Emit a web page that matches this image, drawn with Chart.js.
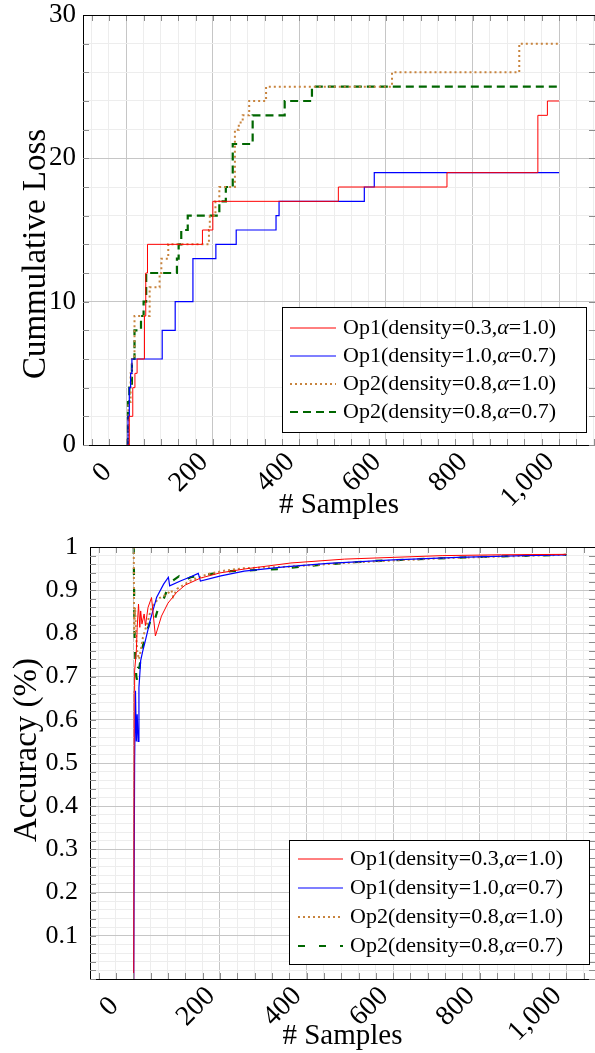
<!DOCTYPE html>
<html lang="en">
<head>
<meta charset="UTF-8">
<title>Cumulative Loss and Accuracy</title>
<script src="https://cdn.jsdelivr.net/npm/chart.js"></script>
<style>
  html, body { margin: 0; padding: 0; background: #fff; }
  canvas { position: absolute; left: 0; }
  #lossChart { top: 0; }
  #accChart { top: 530px; }
</style>
</head>
<body>
<canvas id="lossChart" width="595" height="530"></canvas>
<canvas id="accChart" width="595" height="523"></canvas>
<script>
// series names (same four runs in both plots)
const seriesLabels = [
  'Op1(density=0.3,α=1.0)',
  'Op1(density=1.0,α=0.7)',
  'Op2(density=0.8,α=1.0)',
  'Op2(density=0.8,α=0.7)'
];

// x axis (# samples)
const sampleTicks = [0, 200, 400, 600, 800, 1000];
const sampleTickLabels = ['0\u2002', '200', '400', '600', '800', '1,000'];

// cumulative loss, step curves: level reached at each sample
const lossOp1aX = [3, 7, 15, 20, 25, 42, 45, 49, 176, 200, 490, 741, 951, 973, 1000];
const lossOp1aY = [0, 2, 4, 5, 6, 9, 12, 14, 15, 17, 18, 19, 23, 24, 24];
const lossOp1bX = [2, 4, 7, 10, 13, 83, 113, 154, 207, 254, 346, 353, 550, 573, 1000];
const lossOp1bY = [0, 2, 4, 5, 6, 8, 10, 13, 14, 15, 16, 17, 18, 19, 19];
const lossOp2aX = [2, 5, 10, 13, 19, 54, 77, 81, 97, 191, 193, 206, 215, 251, 260, 269, 284, 323, 614, 908, 1000];
const lossOp2aY = [0, 3, 5, 6, 9, 11, 12, 13, 14, 15, 16, 17, 18, 22, 22.5, 23, 24, 25, 26, 28, 28];
const lossOp2bX = [2, 4, 7, 13, 19, 34, 40, 46, 117, 121, 127, 138, 142, 215, 230, 246, 292, 366, 429, 1000];
const lossOp2bY = [0, 3, 4, 6, 8, 9, 10, 12, 13, 14, 15, 15, 16, 17, 18, 21, 23, 24, 25, 25];
const lossTicks = [0, 10, 20, 30];
const lossTickLabels = ['0', '10', '20', '30'];

// accuracy curves
const accOp1aX = [1, 2, 3, 7, 9, 12, 15, 17, 20, 25, 28, 34, 42, 51, 65, 80, 100, 120, 155, 200, 256, 287, 364, 488, 600, 713, 850, 1000];
const accOp1aY = [0, 0.667, 0.713, 0.76, 0.814, 0.868, 0.814, 0.852, 0.822, 0.845, 0.818, 0.86, 0.883, 0.794, 0.84, 0.87, 0.895, 0.912, 0.928, 0.94, 0.949, 0.953, 0.963, 0.972, 0.976, 0.98, 0.982, 0.983];
const accOp1bX = [1, 3, 5, 7, 9, 11, 13, 17, 22, 27, 39, 54, 70, 81, 84, 110, 130, 150, 155, 202, 256, 349, 450, 600, 750, 900, 1000];
const accOp1bY = [0, 0.5, 0.667, 0.55, 0.613, 0.55, 0.675, 0.737, 0.76, 0.78, 0.83, 0.884, 0.914, 0.93, 0.91, 0.922, 0.93, 0.939, 0.921, 0.933, 0.944, 0.954, 0.962, 0.97, 0.976, 0.98, 0.982];
const accOp2aX = [1, 2, 4, 6, 9, 13, 17, 22, 28, 34, 42, 50, 57, 78, 88, 92, 101, 132, 171, 209, 256, 349, 504, 713, 850, 1000];
const accOp2aY = [1, 0.8, 0.86, 0.8, 0.76, 0.74, 0.76, 0.79, 0.81, 0.83, 0.86, 0.87, 0.88, 0.891, 0.9, 0.885, 0.903, 0.922, 0.937, 0.945, 0.951, 0.954, 0.964, 0.974, 0.978, 0.982];
const accOp2bX = [1, 2, 3, 5, 7, 9, 11, 14, 18, 22, 27, 33, 40, 46, 55, 70, 85, 105, 110, 132, 160, 225, 333, 434, 543, 659, 800, 1000];
const accOp2bY = [1, 0.88, 0.8, 0.73, 0.7, 0.69, 0.72, 0.72, 0.75, 0.77, 0.8, 0.81, 0.83, 0.82, 0.85, 0.88, 0.918, 0.932, 0.918, 0.93, 0.935, 0.944, 0.949, 0.959, 0.967, 0.972, 0.977, 0.982];
const accTicks = [0.1, 0.2, 0.3, 0.4, 0.5, 0.6, 0.7, 0.8, 0.9, 1];
const accTickLabels = ['0.1', '0.2', '0.3', '0.4', '0.5', '0.6', '0.7', '0.8', '0.9', '1'];

const serif = "'Liberation Serif', 'Times New Roman', serif";

function points(xs, ys) {
  return xs.map((x, i) => ({ x: x, y: ys[i] }));
}

function near(a, b) { return Math.abs(a - b) < 1e-6; }

// minor grid every `step`, majors get labels
function stepValues(from, to, step) {
  const out = [];
  const n = Math.round((to - from) / step);
  for (let k = 0; k <= n; k++) out.push(Math.round((from + k * step) * 1000) / 1000);
  return out;
}

function axis(cfg) {
  return {
    type: 'linear',
    min: cfg.min,
    max: cfg.max,
    afterBuildTicks: scale => {
      scale.ticks = stepValues(cfg.from, cfg.to, cfg.step).map(v => ({ value: v }));
    },
    afterFit: scale => {
      if (cfg.width) { scale.width = cfg.width; }
      if (cfg.height) { scale.height = cfg.height; }
      scale.paddingLeft = 0; scale.paddingRight = 0;
      scale.paddingTop = 0; scale.paddingBottom = 0;
    },
    grid: {
      drawTicks: false,
      color: ctx => cfg.majors.some(m => near(m, ctx.tick.value)) ? '#c6c6c6' : '#ededed',
      lineWidth: 1
    },
    border: { display: true, color: '#000', width: 1 },
    ticks: {
      autoSkip: false,
      padding: cfg.pad,
      labelOffset: cfg.labelOffset || 0,
      color: '#000',
      font: { family: serif, size: cfg.tickSize || 26 },
      minRotation: cfg.rot || 0,
      maxRotation: cfg.rot || 0,
      callback: value => {
        const i = cfg.majors.findIndex(m => near(m, value));
        return i >= 0 ? cfg.labels[i] : '';
      }
    },
    title: {
      display: !!cfg.title,
      text: cfg.title || '',
      color: '#000',
      font: { family: serif, size: 29, lineHeight: 1 },
      padding: cfg.titlePad
    }
  };
}

// top border and inner tick marks like pgfplots
const frame = {
  id: 'frame',
  afterDatasetsDraw(chart) {
    const { ctx, chartArea: a, scales } = chart;
    ctx.save();
    ctx.lineWidth = 1;
    ctx.strokeStyle = '#8c8c8c';
    scales.x.ticks.forEach(t => {
      const px = Math.round(scales.x.getPixelForValue(t.value)) + 0.5;
      ctx.beginPath();
      ctx.moveTo(px, a.bottom); ctx.lineTo(px, a.bottom - 6);
      ctx.moveTo(px, a.top); ctx.lineTo(px, a.top + 6);
      ctx.stroke();
    });
    scales.y.ticks.forEach(t => {
      const py = Math.round(scales.y.getPixelForValue(t.value)) + 0.5;
      ctx.beginPath();
      ctx.moveTo(a.left, py); ctx.lineTo(a.left + 6, py);
      ctx.moveTo(a.right, py); ctx.lineTo(a.right - 6, py);
      ctx.stroke();
    });
    ctx.strokeStyle = '#000';
    ctx.beginPath();
    ctx.moveTo(a.left, Math.round(a.top) + 0.5);
    ctx.lineTo(a.right, Math.round(a.top) + 0.5);
    ctx.stroke();
    ctx.restore();
  }
};

// vertical axis title, placed where the original has it
const sideTitle = {
  id: 'sideTitle',
  afterDraw(chart, args, o) {
    const ctx = chart.ctx;
    ctx.save();
    ctx.translate(o.x, o.y);
    ctx.rotate(-Math.PI / 2);
    ctx.font = o.size + 'px ' + serif;
    ctx.fillStyle = '#000';
    ctx.textAlign = 'center';
    ctx.textBaseline = 'middle';
    ctx.fillText(o.text, 0, 0);
    ctx.restore();
  }
};

// legend box inside the plot
const boxLegend = {
  id: 'boxLegend',
  afterDraw(chart, args, o) {
    const ctx = chart.ctx;
    ctx.save();
    ctx.fillStyle = '#fff';
    ctx.fillRect(o.left, o.top, o.width, o.height);
    ctx.strokeStyle = '#000';
    ctx.lineWidth = 1;
    ctx.strokeRect(o.left + 0.5, o.top + 0.5, o.width, o.height);
    chart.data.datasets.forEach((ds, i) => {
      const y = o.top + o.firstRow + i * o.rowGap;
      ctx.beginPath();
      ctx.setLineDash(ds.borderDash || []);
      ctx.strokeStyle = ds.borderColor;
      ctx.lineWidth = ds.borderWidth;
      ctx.moveTo(o.left + o.sampleFrom, y);
      ctx.lineTo(o.left + o.sampleTo, y);
      ctx.stroke();
      ctx.setLineDash([]);
      ctx.fillStyle = '#000';
      ctx.textBaseline = 'middle';
      let x = o.left + o.textFrom;
      ds.label.split(/(α)/).forEach(part => {
        if (!part) return;
        ctx.font = (part === 'α' ? 'italic ' : '') + '22px ' + serif;
        ctx.fillText(part, x, y);
        x += ctx.measureText(part).width;
      });
    });
    ctx.restore();
  }
};

function datasets(xs, ys, dashGreen) {
  return [
    { label: seriesLabels[0], data: points(xs[0], ys[0]), borderColor: '#ff0000', borderWidth: 1 },
    { label: seriesLabels[1], data: points(xs[1], ys[1]), borderColor: '#0000ff', borderWidth: 1.2 },
    { label: seriesLabels[2], data: points(xs[2], ys[2]), borderColor: '#c8843e', borderWidth: 2, borderDash: [2, 3] },
    { label: seriesLabels[3], data: points(xs[3], ys[3]), borderColor: '#006600', borderWidth: 2.2, borderDash: dashGreen }
  ];
}

new Chart(document.getElementById('lossChart'), {
  type: 'line',
  data: {
    datasets: datasets(
      [lossOp1aX, lossOp1bX, lossOp2aX, lossOp2bX],
      [lossOp1aY, lossOp1bY, lossOp2aY, lossOp2bY],
      [8, 5]
    ).map(d => Object.assign(d, { stepped: true }))
  },
  options: {
    responsive: false,
    animation: false,
    layout: { autoPadding: false, padding: { top: 15, left: 0, right: 0, bottom: 0 } },
    elements: { point: { radius: 0 }, line: { tension: 0 } },
    plugins: {
      legend: { display: false },
      tooltip: { enabled: false },
      sideTitle: { text: 'Cummulative Loss', x: 36, y: 254, size: 33 },
      boxLegend: { left: 282, top: 307, width: 304, height: 125, firstRow: 21, rowGap: 28, sampleFrom: 8, sampleTo: 54, textFrom: 61 }
    },
    scales: {
      x: axis({ min: -100, max: 1083, from: -80, to: 1080, step: 40, majors: sampleTicks, labels: sampleTickLabels, tickSize: 28,
                height: 85, pad: 1, labelOffset: -9, rot: 45, title: '# Samples', titlePad: { top: 0, bottom: 10 } }),
      y: axis({ min: 0, max: 30, from: 0, to: 30, step: 2, majors: lossTicks, labels: lossTickLabels, tickSize: 27,
                width: 83, pad: 7 })
    }
  },
  plugins: [frame, boxLegend, sideTitle]
});

new Chart(document.getElementById('accChart'), {
  type: 'line',
  data: {
    datasets: datasets(
      [accOp1aX, accOp1bX, accOp2aX, accOp2bX],
      [accOp1aY, accOp1bY, accOp2aY, accOp2bY],
      [7, 14]
    )
  },
  options: {
    responsive: false,
    animation: false,
    layout: { autoPadding: false, padding: { top: 17, left: 0, right: 0, bottom: 0 } },
    elements: { point: { radius: 0 }, line: { tension: 0 } },
    plugins: {
      legend: { display: false },
      tooltip: { enabled: false },
      sideTitle: { text: 'Accuracy (%)', x: 27, y: 220, size: 33 },
      boxLegend: { left: 289, top: 310, width: 300, height: 124, firstRow: 19, rowGap: 29, sampleFrom: 9, sampleTo: 54, textFrom: 61 }
    },
    scales: {
      x: axis({ min: -100, max: 1066, from: -80, to: 1040, step: 40, majors: sampleTicks, labels: sampleTickLabels, tickSize: 28,
                height: 74, pad: 1, labelOffset: -9, rot: 45, title: '# Samples', titlePad: { top: 0, bottom: 2 } }),
      y: axis({ min: 0, max: 1, from: 0, to: 1, step: 0.02, majors: accTicks, labels: accTickLabels,
                width: 90, pad: 12 })
    }
  },
  plugins: [frame, boxLegend, sideTitle]
});
</script>
</body>
</html>
